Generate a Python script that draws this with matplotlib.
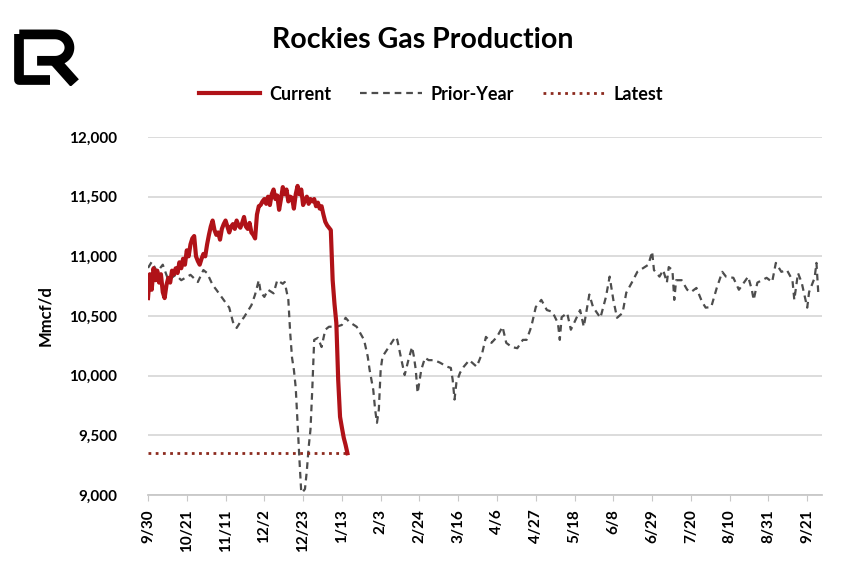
import numpy as np
import matplotlib.pyplot as plt

# x values are days counted from 9/30
tick_labels = ["9/30", "10/21", "11/11", "12/2", "12/23", "1/13", "2/3", "2/24", "3/16",
               "4/6", "4/27", "5/18", "6/8", "6/29", "7/20", "8/10", "8/31", "9/21"]

# current season, one value per day from 9/30
cur_val = [10650, 10850, 10720, 10900, 10800, 10880, 10780, 10850, 10700, 10650,
           10760, 10820, 10780, 10880, 10850, 10900, 10860, 10950, 10900, 10980,
           10930, 11050, 11000, 11100, 11150, 11170, 11000, 10960, 10930, 10980,
           11020, 11000, 11100, 11180, 11250, 11300, 11220, 11180, 11200, 11140,
           11230, 11270, 11300, 11250, 11200, 11250, 11270, 11230, 11300, 11260,
           11240, 11280, 11330, 11250, 11230, 11280, 11200, 11180, 11150, 11350,
           11420, 11430, 11460, 11480, 11440, 11500, 11430, 11520, 11560, 11480,
           11510, 11390, 11480, 11580, 11520, 11560, 11460, 11500, 11490, 11400,
           11520, 11590, 11520, 11560, 11430, 11470, 11500, 11440, 11480, 11460,
           11480, 11420, 11450, 11400, 11420, 11350, 11290, 11260, 11240, 11220,
           10800, 10600, 10440, 9965, 9655, 9565, 9480, 9420, 9350]
cur_day = list(range(len(cur_val)))

prior_day = [0, 2, 5, 8, 11, 15, 18, 23, 27, 30, 32, 35, 37, 41, 44, 46, 48, 50, 52, 56,
             58, 60, 61, 63, 65, 68, 70, 73, 74, 76, 77, 78, 79, 80, 81, 82, 83, 84, 85,
             86, 87, 88, 89, 90, 92, 94, 96, 98, 102, 105, 107, 109, 113, 117, 119, 120,
             122, 123, 124, 125, 126, 127, 130, 134, 135, 137, 139, 141, 143, 144, 145,
             146, 148, 150, 152, 155, 158, 162, 164, 165, 166, 167, 169, 171, 174, 178,
             181, 183, 186, 189, 192, 194, 197, 200, 203, 205, 207, 208, 210, 213, 216,
             219, 222, 223, 224, 227, 229, 231, 234, 236, 239, 241, 245, 248, 250, 252,
             254, 257, 259, 262, 265, 268, 271, 273, 274, 277, 279, 281, 282, 284, 285,
             286, 289, 292, 294, 297, 300, 302, 305, 308, 311, 313, 317, 320, 325, 327,
             328, 330, 335, 338, 340, 343, 346, 349, 350, 352, 354, 357, 358, 361, 362, 363]
prior_val = [10903, 10953, 10870, 10930, 10800, 10845, 10800, 10845, 10785, 10885, 10860,
             10760, 10720, 10635, 10570, 10450, 10400, 10450, 10490, 10590, 10680, 10800,
             10700, 10660, 10720, 10690, 10800, 10770, 10785, 10635, 10360, 10150, 10050,
             9900, 9600, 9300, 9020, 9030, 9050, 9200, 9400, 9550, 9900, 10300, 10317,
             10240, 10385, 10410, 10410, 10425, 10485, 10450, 10410, 10300, 10160, 10050,
             9880, 9715, 9605, 9715, 10050, 10160, 10230, 10325, 10300, 10150, 10005, 10130,
             10240, 10160, 10050, 9855, 10050, 10150, 10130, 10130, 10110, 10075, 10065,
             9965, 9800, 9940, 10025, 10075, 10130, 10075, 10190, 10325, 10275, 10325,
             10410, 10275, 10240, 10230, 10300, 10300, 10385, 10440, 10575, 10635, 10550,
             10535, 10440, 10300, 10490, 10525, 10385, 10450, 10550, 10410, 10680, 10575,
             10485, 10660, 10830, 10635, 10485, 10525, 10695, 10780, 10870, 10900, 10930,
             11040, 10885, 10830, 10885, 10780, 10910, 10885, 10635, 10800, 10800, 10720,
             10700, 10735, 10620, 10570, 10575, 10735, 10870, 10830, 10820, 10720, 10830,
             10720, 10635, 10780, 10820, 10785, 10945, 10870, 10885, 10800, 10635, 10860,
             10780, 10570, 10700, 10820, 10945, 10690]
latest = 9350

plt.rcParams['font.family'] = ['Lato', 'DejaVu Sans']
plt.rcParams['font.weight'] = 'bold'

fig = plt.figure(figsize=(8.48, 5.76), dpi=100)
ax = fig.add_axes([148 / 848, 1 - 495 / 576, 674 / 848, 358 / 576])

ax.plot(prior_day, prior_val, color='#4d4d4d', lw=1.6, linestyle=(0, (3, 2.2)),
        label='Prior-Year', zorder=2)
ax.plot(cur_day, cur_val, color='#b01218', lw=3, label='Current', zorder=3)
ax.plot([cur_day[0], cur_day[-1]], [latest, latest], color='#8c2a1e', lw=2,
        linestyle=(0, (1, 1.6)), label='Latest', zorder=2)

ax.set_xlim(0, 365)
ax.set_ylim(9000, 12000)
ax.set_yticks(np.arange(9000, 12001, 500))
ax.set_yticklabels([f"{v:,}" for v in range(9000, 12001, 500)], fontsize=11,
                   fontweight='bold')
ax.set_xticks(np.arange(len(tick_labels)) * 21)
ax.set_xticklabels(tick_labels, rotation=90, fontsize=11, fontweight='bold')
ax.tick_params(axis='y', length=0, pad=22)
ax.tick_params(axis='x', length=4, color='#c8c8c8', pad=6)
ax.grid(axis='y', color='#d9d9d9', lw=1.3)
ax.set_axisbelow(True)
for s in ['top', 'right', 'left']:
    ax.spines[s].set_visible(False)
ax.spines['bottom'].set_color('#c8c8c8')
ax.spines['bottom'].set_linewidth(1.3)
ax.set_ylabel('Mmcf/d', fontsize=12, fontweight='bold', labelpad=12)

fig.text(0.498, 1 - 40 / 576, 'Rockies Gas Production', ha='center', va='center',
         fontsize=20.5, fontweight='bold')

h, l = ax.get_legend_handles_labels()
order = [1, 0, 2]
fig.legend([h[i] for i in order], [l[i] for i in order], loc='center',
           bbox_to_anchor=(0.508, 1 - 94 / 576), ncol=3, frameon=False, fontsize=13,
           handlelength=3.4, columnspacing=1.6, handletextpad=0.5)

# logo
lg = fig.add_axes([14 / 848, 1 - 86 / 576, 66 / 848, 60 / 576])
lg.set_xlim(0, 1)
lg.set_ylim(0, 1)
lg.axis('off')
t = np.linspace(np.pi / 2, -np.pi / 2, 30)
bx = [0.08, 0.62] + list(0.62 + 0.22 * np.cos(t)) + [0.35]
by = [0.86, 0.86] + list(0.64 + 0.22 * np.sin(t)) + [0.42]
lg.plot(bx, by, color='black', lw=7, solid_capstyle='butt', solid_joinstyle='round')
lg.plot([0.08, 0.08, 0.55], [0.86, 0.1, 0.1], color='black', lw=7,
        solid_capstyle='butt', solid_joinstyle='round')
lg.plot([0.62, 0.92], [0.42, 0.05], color='black', lw=8, solid_capstyle='butt')

fig.savefig('out.png', dpi=100)
